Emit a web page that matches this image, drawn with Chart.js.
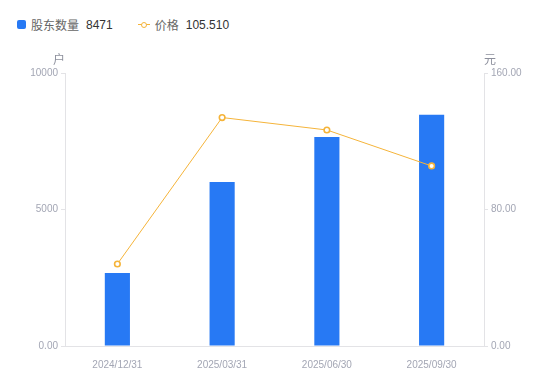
<!DOCTYPE html>
<html>
<head>
<meta charset="utf-8">
<script src="https://cdn.jsdelivr.net/npm/chart.js@4"></script>
<style>
  html, body { margin: 0; padding: 0; background: #fff; }
  #wrap { position: relative; width: 550px; height: 381px; font-family: "Liberation Sans", "Noto Sans CJK SC", sans-serif; }
  #legend { position: absolute; left: 17px; top: 16px; font-size: 12px; color: #666; display: flex; align-items: center; white-space: nowrap; }
  .item { display: flex; align-items: center; margin-right: 25px; }
  .sq { width: 9px; height: 9px; background: #2779f4; border-radius: 2px; margin-right: 5px; }
  .ln { position: relative; width: 12px; height: 9px; margin-right: 5px; }
  .ln::before { content: ''; position: absolute; left: 0; right: 0; top: 4px; height: 1px; background: #f5b43a; }
  .ln::after { content: ''; position: absolute; left: 3px; top: 1.5px; width: 4px; height: 4px; border: 1.5px solid #f5b43a; border-radius: 50%; background: #fff; }
  .val { color: #333; margin-left: 7px; }
  canvas { position: absolute; left: 0; top: 0; }
</style>
</head>
<body>
<div id="wrap">
  <div id="legend"></div>
  <canvas id="chart" width="550" height="381"></canvas>
</div>
<script>
const categories = ['2024/12/31', '2025/03/31', '2025/06/30', '2025/09/30'];
const holders = [2674, 6007, 7656, 8471];
const prices = [48.06, 133.9, 126.6, 105.51];
const leftTicks = [0, 5000, 10000];
const rightTicks = [0, 80, 160];

const BLUE = '#2779f4';
const ORANGE = '#f5b43a';
const TICK_COLOR = '#a3a6b4';
const LINE_COLOR = '#e3e3e6';

document.getElementById('legend').innerHTML =
  `<span class="item"><span class="sq"></span>股东数量<span class="val">${holders[holders.length - 1]}</span></span>` +
  `<span class="item"><span class="ln"></span>价格<span class="val">${prices[prices.length - 1].toFixed(3)}</span></span>`;

// unit labels above the two y axes
const unitLabels = {
  id: 'unitLabels',
  afterDraw(chart) {
    const { ctx, scales } = chart;
    ctx.save();
    ctx.font = '12px "Noto Sans CJK SC", sans-serif';
    ctx.fillStyle = '#8c8f9c';
    ctx.textBaseline = 'bottom';
    ctx.textAlign = 'center';
    ctx.fillText('户', scales.y.right - 6, scales.y.top - 8);
    ctx.fillText('元', scales.y1.left + 6, scales.y1.top - 8);
    ctx.restore();
  },
};

const tickFont = { family: '"Liberation Sans", Arial, sans-serif', size: 10 };

new Chart(document.getElementById('chart').getContext('2d'), {
  data: {
    labels: categories,
    datasets: [
      {
        type: 'line',
        label: '价格',
        data: prices,
        yAxisID: 'y1',
        borderColor: ORANGE,
        borderWidth: 1,
        pointRadius: 2.8,
        pointBorderWidth: 1.6,
        pointBackgroundColor: '#fff',
        pointBorderColor: ORANGE,
        tension: 0,
        order: 0,
      },
      {
        type: 'bar',
        label: '股东数量',
        data: holders,
        yAxisID: 'y',
        backgroundColor: BLUE,
        barPercentage: 0.24,
        categoryPercentage: 1,
        order: 1,
      },
    ],
  },
  options: {
    responsive: false,
    animation: false,
    layout: { padding: { top: 73, bottom: 0, left: 0, right: 0 } },
    plugins: { legend: { display: false }, tooltip: { enabled: false } },
    scales: {
      x: {
        grid: { display: false },
        border: { color: LINE_COLOR },
        ticks: { color: TICK_COLOR, font: tickFont, padding: 5, maxRotation: 0 },
        afterFit: (s) => { s.height = 35; },
      },
      y: {
        position: 'left',
        min: 0,
        max: 10000,
        afterBuildTicks: (s) => { s.ticks = leftTicks.map((v) => ({ value: v })); },
        ticks: {
          color: TICK_COLOR,
          font: tickFont,
          padding: 3,
          callback: (v) => (v === 0 ? '0.00' : String(v)),
        },
        grid: { drawOnChartArea: false, tickLength: 4, color: LINE_COLOR },
        border: { color: LINE_COLOR },
        afterFit: (s) => { s.width = 65; },
      },
      y1: {
        position: 'right',
        min: 0,
        max: 160,
        afterBuildTicks: (s) => { s.ticks = rightTicks.map((v) => ({ value: v })); },
        ticks: {
          color: TICK_COLOR,
          font: tickFont,
          padding: 3,
          callback: (v) => v.toFixed(2),
        },
        grid: { drawOnChartArea: false, tickLength: 4, color: LINE_COLOR },
        border: { color: LINE_COLOR },
        afterFit: (s) => { s.width = 66; },
      },
    },
  },
  plugins: [unitLabels],
});
</script>
</body>
</html>
